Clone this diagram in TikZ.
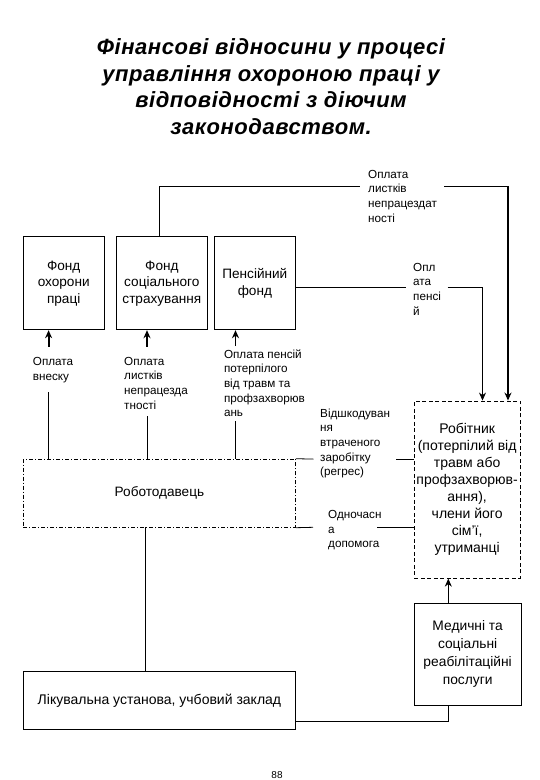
\documentclass[tikz,border=0pt]{standalone}
\usepackage{fontspec}
\setmainfont{Liberation Sans}
\newfontfamily\titlefont[LetterSpace=2.5]{Liberation Sans}
\usetikzlibrary{arrows.meta}
\begin{document}
\begin{tikzpicture}[x=1pt,y=-1pt,
  box/.style={draw,line width=0.8pt,align=center,inner sep=1pt,font=\fontsize{13.6}{16.4}\selectfont},
  lbl/.style={anchor=north west,align=left,inner sep=0pt,font=\fontsize{11.7}{14.7}\selectfont},
  ln/.style={line width=0.8pt},
  arr/.style={line width=0.8pt,-{Stealth[length=8pt,width=7pt]}},
  tarr/.style={line width=1.8pt,-{Stealth[length=8pt,width=7pt]}}]
\useasboundingbox (0,0) rectangle (540,780);
% title
\node (title) at (271,86.5) [align=center,font=\fontsize{22}{26.7}\titlefont\bfseries\itshape]
  {Фінансові відносини у процесі\\управління охороною праці у\\відповідності з діючим\\законодавством.};
% boxes
\node[box,minimum width=80.6pt,minimum height=93pt] (fop) at (63.7,283.3) {Фонд\\охорони\\праці};
\node[box,minimum width=90.9pt,minimum height=93pt] (fss) at (161.85,283.3) {Фонд\\соціального\\страхування};
\node[box,minimum width=81.3pt,minimum height=93pt] (pf) at (254.85,283.3) {Пенсійний\\фонд};
\node[box,dash pattern=on 4pt off 2pt on 1pt off 2pt,minimum width=272.1pt,minimum height=68.2pt] (emp) at (159.45,493.2) {Роботодавець};
\node[box,dash pattern=on 4pt off 2.5pt,minimum width=105.7pt,minimum height=177.3pt,font=\fontsize{14}{17}\selectfont] (wrk) at (467.15,489.6)
  {Робітник\\(потерпілий від\\травм або\\профзахворюв-\\ання),\\члени його\\сім'ї,\\утриманці};
\node[box,minimum width=106.7pt,minimum height=101.6pt,font=\fontsize{13.8}{18}\selectfont] (med) at (467.65,654.2) {Медичні та\\соціальні\\реабілітаційні\\послуги};
\node[box,minimum width=272.1pt,minimum height=58.5pt,font=\fontsize{14}{16.4}\selectfont] (lik) at (159.45,700.55) {Лікувальна установа, учбовий заклад};
% labels
\node[lbl] (la) at (368,169.8) {Оплата\\листків\\непрацездат\\ності};
\node[lbl] (lb) at (413,262.8) {Опл\\ата\\пенсі\\й};
\node[lbl] (l1) at (32.7,357.5) {Оплата\\внеску};
\node[lbl] (l2) at (124,356.8) {Оплата\\листків\\непрацезда\\тності};
\node[lbl] (l3) at (223.8,349.2) {Оплата пенсій\\потерпілого\\від травм та\\профзахворюв\\ань};
\node[lbl] (l4) at (320,408.4) {Відшкодуван\\ня\\втраченого\\заробітку\\(регрес)};
\node[lbl] (l5) at (328,510) {Одночасн\\а\\допомога};
\node (pg) at (277,775.5) [inner sep=0pt,font=\fontsize{10}{12}\selectfont] {88};
% coordinates
\coordinate (a0) at (159,236.8);
\coordinate (a1) at (360,186.2);
\coordinate (a2) at (444,186.2);
\coordinate (a3) at (508,186.2);
\coordinate (b0) at (295.5,287.7);
\coordinate (b1) at (406,287.7);
\coordinate (b2) at (447.7,287.7);
\coordinate (b3) at (482.5,287.7);
\coordinate (c1) at (48.6,392);  \coordinate (c1t) at (48.6,346.5);
\coordinate (c2) at (147,416);   \coordinate (c2t) at (147,346.5);
\coordinate (c3) at (235.5,421); \coordinate (c3t) at (235.5,346);
\coordinate (d1) at (313.4,459.1); \coordinate (d2) at (396,459.1);
\coordinate (e1) at (313,527.3);   \coordinate (e2) at (377,527.3);
\coordinate (f0) at (145.7,527.3);
\coordinate (g0) at (448.3,603.4);
\coordinate (h0) at (448.3,705);
\coordinate (h1) at (448.3,721.2);
% connectors
\draw[ln] (a0) |- (a1);
\draw[ln] (a2) -- (a3);
\draw[tarr] (a3) -- (wrk.north -| a3);
\draw[ln] (b0) -- (b1);
\draw[arr] (b2) -| (wrk.north -| b3);
\draw[ln] (emp.north -| c1) -- (c1);
\draw[tarr] (c1t) -- (fop.south -| c1t);
\draw[ln] (emp.north -| c2) -- (c2);
\draw[tarr] (c2t) -- (fss.south -| c2t);
\draw[ln] (emp.north -| c3) -- (c3);
\draw[tarr] (c3t) -- (pf.south -| c3t);
\draw[ln] (emp.north east) -- (d1);
\draw[ln] (d2) -- (wrk.west |- d2);
\draw[ln] (emp.south east) -- (e1);
\draw[ln] (e2) -- (wrk.west |- e2);
\draw[ln] (f0) -- (lik.north -| f0);
\draw[arr] (g0) -- (wrk.south -| g0);
\draw[ln] (h0) -- (h1) -- (lik.east |- h1);
\end{tikzpicture}
\end{document}
